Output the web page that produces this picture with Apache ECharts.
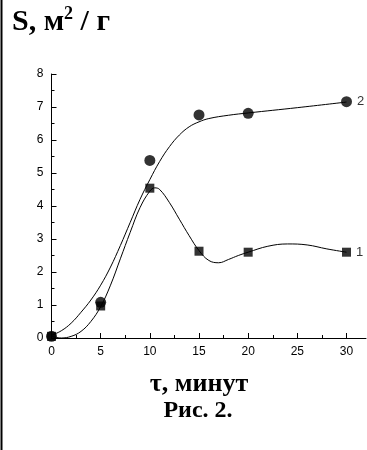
<!DOCTYPE html>
<html><head><meta charset="utf-8">
<script src="https://cdn.jsdelivr.net/npm/echarts@6/dist/echarts.min.js"></script>
<style>html,body{margin:0;padding:0;background:#fff}#c{width:367px;height:450px}</style>
</head><body><div id="c"></div>
<script>
// Measured points
var times = [0, 5, 10, 15, 20, 30];
var series1Values = [0.05, 0.97, 4.54, 2.63, 2.6, 2.6];   // squares, curve "1"
var series2Values = [0.05, 1.08, 5.38, 6.76, 6.81, 7.16]; // circles, curve "2"
// Fitted curves
var curve1X = [0, 1, 2, 3, 4, 5, 6, 7, 8, 9, 10, 10.5, 11, 12, 13, 14, 15, 16, 17, 18, 19, 20, 22, 24, 26, 28, 30];
var curve1Y = [0.05, 0.0, 0.05, 0.2, 0.5, 0.95, 1.6, 2.4, 3.2, 3.95, 4.45, 4.55, 4.5, 4.1, 3.6, 3.1, 2.65, 2.35, 2.28, 2.38, 2.5, 2.6, 2.78, 2.85, 2.82, 2.7, 2.6];
var curve2X = [0, 1, 2, 3, 4, 5, 6, 7, 8, 9, 10, 11, 12, 13, 14, 15, 16, 18, 20, 25, 30];
var curve2Y = [0.08, 0.22, 0.45, 0.78, 1.15, 1.6, 2.15, 2.8, 3.5, 4.2, 4.8, 5.35, 5.8, 6.15, 6.4, 6.55, 6.65, 6.75, 6.82, 6.98, 7.15];
var xTicks = [0, 5, 10, 15, 20, 25, 30];
var yTicks = [0, 1, 2, 3, 4, 5, 6, 7, 8];
var seriesNames = ['1', '2'];
var yTitle = 'S, м';
var xTitle = 'τ, минут';
var caption = 'Рис. 2.';

function zip(a, b) { return a.map(function (v, i) { return [v, b[i]]; }); }
function withEndLabel(xs, ys, name) {
  return xs.map(function (v, i) {
    var item = { value: [v, ys[i]] };
    if (i === xs.length - 1) item.label = { show: true, formatter: name, position: 'right', distance: 5, color: '#000', fontFamily: 'Liberation Sans, Arial', fontSize: 13 };
    return item;
  });
}

var chart = echarts.init(document.getElementById('c'), null, { renderer: 'canvas' });
var axisFont = { color: '#000', fontFamily: 'Liberation Sans, Arial', fontSize: 12 };
chart.setOption({
  animation: false,
  backgroundColor: '#fff',
  grid: [
    { left: 51.5, right: 20.5, top: 74, bottom: 112, containLabel: false },
    { left: 51.5, right: 1, top: 74, bottom: 112, containLabel: false }
  ],
  xAxis: [
    {
      gridIndex: 0, type: 'value', min: 0, max: 30, interval: 5,
      axisLine: { show: false },
      axisTick: { show: true, inside: true, length: 5, lineStyle: { color: '#000' } },
      minorTick: { show: true, splitNumber: 2, length: 3, lineStyle: { color: '#000' } },
      axisLabel: Object.assign({ margin: 8, formatter: function (v) { return xTicks.indexOf(v) >= 0 ? String(v) : ''; } }, axisFont),
      splitLine: { show: false }
    },
    {
      gridIndex: 1, type: 'value', min: 0, max: 32,
      axisLine: { show: true, onZero: false, lineStyle: { color: '#000', width: 1 } },
      axisTick: { show: false }, axisLabel: { show: false }, splitLine: { show: false }
    }
  ],
  yAxis: [
    {
      gridIndex: 0, type: 'value', min: 0, max: 8, interval: 1,
      axisLine: { show: true, lineStyle: { color: '#000', width: 1 } },
      axisTick: { show: true, inside: true, length: 5, lineStyle: { color: '#000' } },
      minorTick: { show: true, splitNumber: 2, length: 3, lineStyle: { color: '#000' } },
      axisLabel: Object.assign({ margin: 8, formatter: function (v) { return yTicks.indexOf(v) >= 0 ? String(v) : ''; } }, axisFont),
      splitLine: { show: false }
    },
    { gridIndex: 1, type: 'value', min: 0, max: 8, show: false }
  ],
  series: [
    { type: 'line', xAxisIndex: 0, yAxisIndex: 0, data: zip(curve1X, curve1Y), smooth: 0.4, showSymbol: false, lineStyle: { color: '#000', width: 1 }, z: 2 },
    { type: 'line', xAxisIndex: 0, yAxisIndex: 0, data: zip(curve2X, curve2Y), smooth: 0.4, showSymbol: false, lineStyle: { color: '#000', width: 1 }, z: 2 },
    { type: 'scatter', name: seriesNames[0], xAxisIndex: 0, yAxisIndex: 0, data: withEndLabel(times, series1Values, seriesNames[0]), symbol: 'rect', symbolSize: 9, itemStyle: { color: '#000' }, z: 4 },
    { type: 'scatter', name: seriesNames[1], xAxisIndex: 0, yAxisIndex: 0, data: withEndLabel(times, series2Values, seriesNames[1]), symbol: 'circle', symbolSize: 11, itemStyle: { color: '#000' }, z: 3 }
  ],
  graphic: [
    { type: 'line', shape: { x1: 1.5, y1: 0, x2: 1.5, y2: 450 }, style: { stroke: '#000', lineWidth: 2 } },
    { type: 'text', left: 12, top: 5, style: { text: '{a|' + yTitle + '}{s|2}{a| / г}', rich: {
      a: { fontFamily: 'Liberation Serif, Times New Roman', fontWeight: 'bold', fontSize: 30, fill: '#000', verticalAlign: 'bottom', lineHeight: 32 },
      s: { fontFamily: 'Liberation Serif, Times New Roman', fontWeight: 'bold', fontSize: 18, fill: '#000', verticalAlign: 'top', padding: [0, 0, 14, 0], lineHeight: 32 }
    } } },
    { type: 'text', x: 199, y: 384, style: { text: xTitle, fill: '#000', font: 'bold 26px "Liberation Serif"', align: 'center', verticalAlign: 'middle' } },
    { type: 'text', x: 198, y: 411, style: { text: caption, fill: '#000', font: 'bold 24px "Liberation Serif"', align: 'center', verticalAlign: 'middle' } }
  ]
});
</script></body></html>
